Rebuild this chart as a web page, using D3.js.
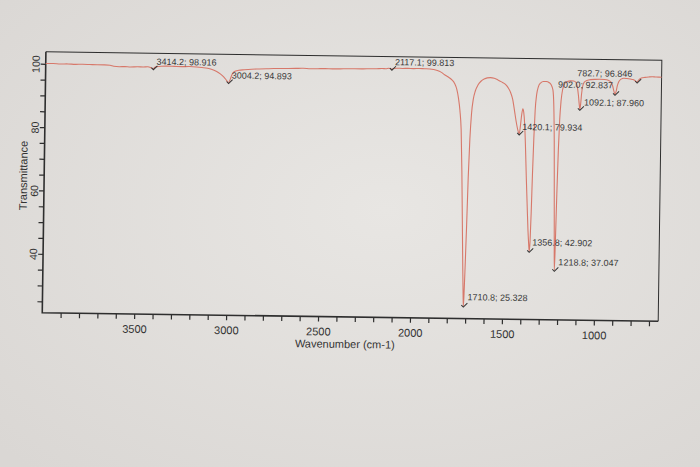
<!DOCTYPE html>
<html>
<head>
<meta charset="utf-8">
<title>IR spectrum</title>
<script src="https://cdn.jsdelivr.net/npm/d3@7"></script>
<style>
  html, body { margin: 0; padding: 0; background: #e2dfdc; overflow: hidden; }
  #ir-chart { width: 700px; height: 467px; }
  text { font-family: "Liberation Sans", Arial, sans-serif; }
</style>
</head>
<body>
<div id="ir-chart"></div>
<script>
// Spectrum (wavenumber in cm-1, %T)
const wavenumbers = [
  4000, 3960, 3920, 3880, 3840, 3800, 3760, 3720, 3680, 3650, 3630, 3600, 3570, 3540, 3500,
  3470, 3445, 3430, 3420, 3414.2, 3408, 3395, 3370, 3340, 3300, 3260, 3220, 3180, 3150, 3120,
  3095, 3070, 3050, 3030, 3015, 3004.2, 2996, 2988, 2975, 2950, 2920, 2880, 2840, 2800, 2760,
  2720, 2680, 2640, 2600, 2560, 2520, 2480, 2440, 2400, 2360, 2320, 2280, 2240, 2200, 2170,
  2150, 2135, 2125, 2117.1, 2108, 2090, 2060, 2030, 2000, 1970, 1940, 1910, 1890, 1870, 1850,
  1830, 1810, 1790, 1775, 1763, 1753, 1744, 1736, 1729, 1723, 1717, 1713, 1710.8, 1708, 1704,
  1699, 1694, 1688, 1681, 1672, 1662, 1648, 1632, 1615, 1598, 1580, 1560, 1540, 1520, 1500,
  1485, 1470, 1458, 1448, 1438, 1428, 1420.1, 1414, 1408, 1402, 1397, 1391, 1385, 1378, 1371,
  1365, 1360, 1356.8, 1353, 1349, 1345, 1340, 1335, 1328, 1320, 1308, 1292, 1276, 1262, 1250,
  1240, 1234, 1229, 1225, 1221.5, 1218.8, 1215, 1211, 1206, 1201, 1195, 1187, 1177, 1163, 1145,
  1128, 1116, 1108, 1101, 1096, 1092.1, 1088, 1084, 1078, 1070, 1056, 1035, 1010, 985, 960,
  940, 925, 915, 908, 902.0, 896, 890, 882, 870, 855, 838, 820, 805, 795, 788,
  782.7, 777, 770, 760, 740, 720, 700, 680, 665, 650
];
const transmittance = [
  100.1, 100.1, 100.0, 100.05, 99.95, 100.0, 99.95, 99.9, 99.9, 99.8, 99.5, 99.4, 99.45, 99.35, 99.45,
  99.4, 99.5, 99.3, 99.0, 98.916, 99.3, 99.6, 99.75, 99.8, 99.75, 99.7, 99.75, 99.65, 99.5, 99.3,
  98.9, 98.3, 97.6, 96.6, 95.5, 94.893, 95.8, 97.2, 98.3, 98.8, 99.0, 99.2, 99.3, 99.4, 99.5,
  99.55, 99.6, 99.65, 99.7, 99.6, 99.65, 99.7, 99.65, 99.7, 99.75, 99.8, 99.8, 99.85, 99.9, 100.0,
  99.95, 100.1, 99.95, 99.813, 100.05, 100.15, 100.1, 100.15, 100.1, 100.15, 100.1, 100.05, 99.9, 99.6, 99.1,
  98.3, 97.6, 96.7, 95.6, 93.8, 91.0, 87.0, 81.0, 68, 53, 38, 29, 25.328, 29, 38,
  51, 66, 78, 86, 90.8, 93.3, 95.2, 96.4, 97.1, 97.5, 97.6, 97.4, 96.9, 96.3, 95.6,
  94.6, 93.0, 90.8, 87.5, 84, 81.2, 79.934, 82.5, 86, 87.9, 86.8, 83, 76, 66, 57,
  49.5, 45, 42.902, 46, 55, 67, 79, 87.5, 92.5, 94.8, 96.1, 96.6, 96.6, 96.3, 95.6,
  94, 89, 78, 62, 47, 37.047, 47, 61, 75, 84.5, 90.5, 94.2, 96.0, 96.7, 96.9,
  96.9, 96.5, 95.2, 92.4, 89.6, 87.960, 89.8, 92.8, 95.4, 96.6, 97.1, 97.4, 97.5, 97.55, 97.5,
  97.3, 96.7, 95.4, 93.8, 92.837, 93.9, 95.6, 96.9, 97.7, 98.0, 97.9, 97.75, 97.6, 97.3, 96.95,
  96.846, 97.3, 97.8, 98.1, 98.35, 98.5, 98.6, 98.5, 98.5, 98.45
];

// Picked peaks printed on the chart
const peakWavenumbers = [3414.2, 3004.2, 2117.1, 1710.8, 1420.1, 1356.8, 1218.8, 1092.1, 902.0, 782.7];
const peakValues = [98.916, 94.893, 99.813, 25.328, 79.934, 42.902, 37.047, 87.960, 92.837, 96.846];

// Axis labels
const xTickLabels = [3500, 3000, 2500, 2000, 1500, 1000];
const yTickLabels = [40, 60, 80, 100];

document.addEventListener('DOMContentLoaded', function() {
    const width = 700;
    const height = 467;
    const plot = {left: 44, right: 660, top: 56, bottom: 317};

    const svg = d3.select('#ir-chart')
        .append('svg')
        .attr('width', width)
        .attr('height', height);

    // paper background
    const defs = svg.append('defs');
    const paper = defs.append('radialGradient')
        .attr('id', 'paper')
        .attr('cx', '55%').attr('cy', '45%').attr('r', '75%');
    paper.append('stop').attr('offset', '0%').attr('stop-color', '#e8e6e3');
    paper.append('stop').attr('offset', '100%').attr('stop-color', '#dad7d4');
    svg.append('rect')
        .attr('width', width)
        .attr('height', height)
        .attr('fill', 'url(#paper)');

    // the sheet was photographed slightly tilted
    const g = svg.append('g')
        .attr('transform', 'rotate(0.8, 350, 190)');

    const x = d3.scaleLinear().domain([4000, 650]).range([plot.left, plot.right]);
    const y = d3.scaleLinear().domain([21.4, 103.8]).range([plot.bottom, plot.top]);

    const ink = '#2e2e2e';

    // x axis
    const xAxis = g.append('g')
        .attr('class', 'axis x-axis')
        .attr('transform', `translate(0, ${plot.bottom})`)
        .call(d3.axisBottom(x)
            .tickValues(d3.range(3900, 650, -100))
            .tickSize(5)
            .tickPadding(6)
            .tickFormat(d => xTickLabels.includes(d) ? d : ''));
    xAxis.select('.domain').remove();
    xAxis.selectAll('line').attr('stroke', ink).attr('stroke-width', 1.2);
    xAxis.selectAll('text')
        .attr('fill', '#333')
        .style('font-size', '11px');

    // y axis
    const yAxis = g.append('g')
        .attr('class', 'axis y-axis')
        .attr('transform', `translate(${plot.left}, 0)`)
        .call(d3.axisLeft(y)
            .tickValues(d3.range(25, 101, 5))
            .tickSize(5)
            .tickFormat(d => yTickLabels.includes(d) ? d : ''));
    yAxis.select('.domain').remove();
    yAxis.selectAll('line').attr('stroke', ink).attr('stroke-width', 1.2);
    yAxis.selectAll('text')
        .attr('x', null)
        .attr('dy', null)
        .attr('text-anchor', 'middle')
        .attr('transform', 'translate(-6, 0) rotate(-90)')
        .attr('fill', '#333')
        .style('font-size', '10.5px');

    // frame: heavy left/bottom axes, thin top/right border
    g.append('path')
        .attr('d', `M${plot.left},${plot.top} L${plot.right},${plot.top} L${plot.right},${plot.bottom}`)
        .attr('fill', 'none')
        .attr('stroke', ink)
        .attr('stroke-width', 1);
    g.append('path')
        .attr('d', `M${plot.left},${plot.top} L${plot.left},${plot.bottom} L${plot.right},${plot.bottom}`)
        .attr('fill', 'none')
        .attr('stroke', ink)
        .attr('stroke-width', 1.6);

    // axis titles
    g.append('text')
        .attr('x', (plot.left + plot.right) / 2 - 5)
        .attr('y', 348)
        .attr('text-anchor', 'middle')
        .attr('fill', '#333')
        .style('font-size', '11px')
        .text('Wavenumber (cm-1)');
    g.append('text')
        .attr('transform', 'translate(27, 180) rotate(-90)')
        .attr('text-anchor', 'middle')
        .attr('fill', '#333')
        .style('font-size', '11px')
        .text('Transmittance');

    // spectrum trace
    const spectrum = wavenumbers.map((w, i) => [w, transmittance[i]]);
    const line = d3.line()
        .x(d => x(d[0]))
        .y(d => y(d[1]))
        .curve(d3.curveMonotoneX);
    g.append('path')
        .datum(spectrum)
        .attr('class', 'spectrum')
        .attr('d', line)
        .attr('fill', 'none')
        .attr('stroke', '#d7786a')
        .attr('stroke-width', 1.1)
        .attr('stroke-linejoin', 'round');

    // peak labels: text offset from the marker, a couple sit to the left
    const labelOffsets = [
        {dx: 3, dy: -4}, {dx: 3, dy: -4}, {dx: 3, dy: -4}, {dx: 4, dy: -6},
        {dx: 3, dy: -4}, {dx: 3, dy: -6}, {dx: 4, dy: -5}, {dx: 4, dy: -4},
        {dx: -2, dy: -6, anchor: 'end'}, {dx: -5, dy: -5, anchor: 'end'}
    ];
    const peaks = peakWavenumbers.map((w, i) => ({wn: w, t: peakValues[i], off: labelOffsets[i]}));

    const peakGroup = g.append('g').attr('class', 'peak-labels');
    peakGroup.selectAll('.peak-mark')
        .data(peaks)
        .enter()
        .append('path')
        .attr('class', 'peak-mark')
        .attr('d', d => {
            const px = x(d.wn), py = y(d.t) + 1;
            return `M${px - 2},${py - 2} L${px},${py} L${px + 4},${py - 4}`;
        })
        .attr('fill', 'none')
        .attr('stroke', '#333')
        .attr('stroke-width', 1);
    peakGroup.selectAll('.peak-text')
        .data(peaks)
        .enter()
        .append('text')
        .attr('class', 'peak-text')
        .attr('x', d => x(d.wn) + d.off.dx)
        .attr('y', d => y(d.t) + d.off.dy)
        .attr('text-anchor', d => d.off.anchor || 'start')
        .attr('fill', '#3a3a3a')
        .style('font-size', '9px')
        .text(d => `${d.wn.toFixed(1)}; ${d.t.toFixed(3)}`);
});
</script>
</body>
</html>
